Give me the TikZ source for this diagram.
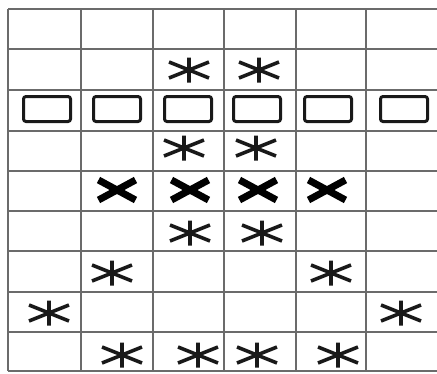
\documentclass[tikz,border=0pt]{standalone}
\begin{document}
\begin{tikzpicture}[x=1pt,y=-1pt,
  gridline/.style={draw=black!58,line width=1.6pt},
  astline/.style={draw=black!90,line width=3.6pt},
  asterisk/.pic={\draw[astline] (0,-12.5)--(0,12.5) (-20,-8)--(20,8) (-20,8)--(20,-8);},
  crossmark/.pic={\draw[draw=black,line width=7pt] (-18.5,-10)--(18.5,10) (-18.5,10)--(18.5,-10);},
  boxmark/.pic={\draw[draw=black!90,line width=3pt,rounded corners=2.5pt] (-23.5,-12.5) rectangle (23.5,12.5);}
]
\useasboundingbox (0,0) rectangle (437,373);
\fill[white] (0,0) rectangle (437,373);
% grid
\foreach \x in {8,81,153,224,296,366} \draw[gridline] (\x,9) -- (\x,371);
\foreach \y in {9,49,90,131,171,211,251,292,332,371} \draw[gridline] (8,\y) -- (438,\y);
% row 2
\pic at (189,70) {asterisk};
\pic at (259,70) {asterisk};
% row 3 boxes
\foreach \x in {47,117,188,257,328,404} \pic at (\x,109) {boxmark};
% row 4
\pic at (184,148) {asterisk};
\pic at (256,148) {asterisk};
% row 5 crosses
\foreach \x in {117,190,258,327} \pic at (\x,190) {crossmark};
% row 6
\pic at (190,233) {asterisk};
\pic at (262,233) {asterisk};
% row 7
\pic at (112,273) {asterisk};
\pic at (331,273) {asterisk};
% row 8
\pic at (49,313) {asterisk};
\pic at (401,313) {asterisk};
% row 9
\pic at (122,355) {asterisk};
\pic at (198,355) {asterisk};
\pic at (257,355) {asterisk};
\pic at (338,355) {asterisk};
\end{tikzpicture}
\end{document}
